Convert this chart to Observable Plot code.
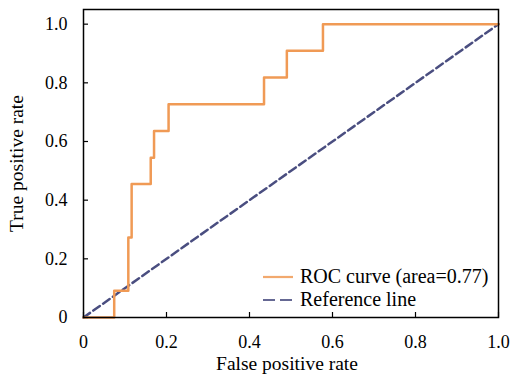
<!DOCTYPE html>
<html>
<head>
<meta charset="utf-8">
<script src="https://cdn.jsdelivr.net/npm/d3@7"></script>
<script src="https://cdn.jsdelivr.net/npm/@observablehq/plot@0.6"></script>
<style>
  html, body { margin: 0; padding: 0; background: #fff; }
</style>
</head>
<body>
<div id="chart"></div>
<script>
// ROC curve points (false positive rate, true positive rate), step-after
const fpr = [0, 0.074, 0.108, 0.116, 0.162, 0.170, 0.205, 0.435, 0.490, 0.577, 1.0];
const tpr = [0, 0.091, 0.273, 0.455, 0.545, 0.636, 0.727, 0.818, 0.909, 1.0, 1.0];
// Reference (chance) line
const refX = [0, 1];
const refY = [0, 1];
const ticks = [0, 0.2, 0.4, 0.6, 0.8, 1.0];
const tickLabels = ["0", "0.2", "0.4", "0.6", "0.8", "1.0"];
const legendLabels = ["ROC curve (area=0.77)", "Reference line"];
const xTitle = "False positive rate";
const yTitle = "True positive rate";

const roc = fpr.map((x, i) => ({x, y: tpr[i]}));
const ref = refX.map((x, i) => ({x, y: refY[i]}));
const orange = "#F09A55";
const navy = "#4A4E80";
const serif = "Liberation Serif, DejaVu Serif, serif";
const fmt = d => tickLabels[ticks.indexOf(d)] ?? d;

const plot = Plot.plot({
  width: 512,
  height: 388,
  marginLeft: 83,
  marginRight: 14,
  marginTop: 9,
  marginBottom: 71,
  style: `font-family: ${serif}; font-size: 18px; color: #000; background: #fff;`,
  x: {domain: [0, 1], ticks, tickFormat: fmt, label: null},
  y: {domain: [0, 1.05], ticks, tickFormat: fmt, label: null},
  marks: [
    Plot.line(ref, {x: "x", y: "y", stroke: navy, strokeWidth: 2.5, strokeDasharray: "8,4"}),
    Plot.line(roc, {x: "x", y: "y", stroke: orange, strokeWidth: 2.5, curve: "step-after"}),
    Plot.axisX({ticks, tickFormat: fmt, tickSize: -5, tickPadding: 23, stroke: "#000", strokeWidth: 1.2, fontSize: 18, fontFamily: serif, label: null}),
    Plot.axisY({ticks, tickFormat: fmt, tickSize: -5, tickPadding: 21, stroke: "#000", strokeWidth: 1.2, fontSize: 18, fontFamily: serif, label: null}),
    Plot.frame({stroke: "#000", strokeWidth: 1.5}),
    Plot.text([xTitle], {frameAnchor: "bottom", dy: 52, dx: -4, text: d => d, fontSize: 19.5, fontFamily: serif, fill: "#000"}),
    Plot.text([yTitle], {frameAnchor: "left", dx: -67, rotate: -90, textAnchor: "middle", text: d => d, fontSize: 19.5, fontFamily: serif, fill: "#000"})
  ]
});

// Legend (inside the plot, bottom right)
const svg = d3.select(plot);
svg.attr("font-family", serif);
const lg = svg.append("g").attr("font-family", serif).attr("font-size", 20).attr("text-anchor", "start");
const entries = [
  {label: legendLabels[0], color: orange, dash: null, y: 277},
  {label: legendLabels[1], color: navy, dash: "12,5", y: 300}
];
for (const e of entries) {
  lg.append("line")
    .attr("x1", 263).attr("x2", 293).attr("y1", e.y).attr("y2", e.y)
    .attr("stroke", e.color).attr("stroke-width", 2.2).attr("stroke-opacity", 0.85)
    .attr("stroke-dasharray", e.dash);
  lg.append("text")
    .attr("x", 300).attr("y", e.y).attr("dy", "0.3em")
    .attr("text-anchor", "start")
    .attr("fill", "#000").text(e.label);
}

document.getElementById("chart").appendChild(plot);
</script>
</body>
</html>
